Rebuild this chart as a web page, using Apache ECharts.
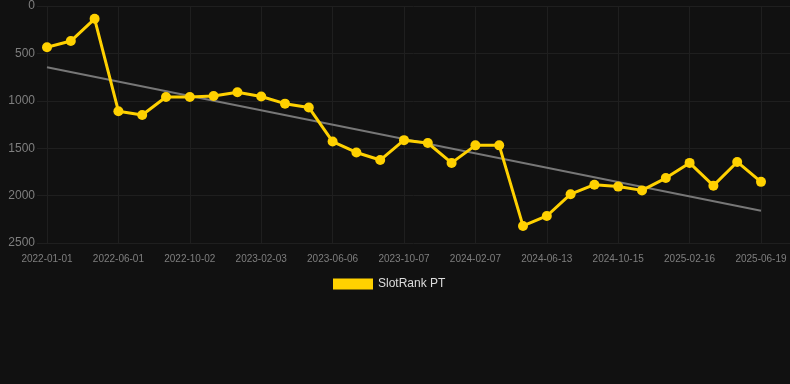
<!DOCTYPE html>
<html>
<head>
<meta charset="utf-8">
<script src="https://cdn.jsdelivr.net/npm/echarts@6/dist/echarts.min.js"></script>
<style>html,body{margin:0;padding:0;background:#111111;}#c{width:790px;height:384px;}</style>
</head>
<body>
<div id="c"></div>
<script>
var categories = ['2022-01-01','2022-02-20','2022-04-11','2022-06-01','2022-07-12','2022-08-22','2022-10-02','2022-11-12','2022-12-24','2023-02-03','2023-03-16','2023-04-26','2023-06-06','2023-07-17','2023-08-27','2023-10-07','2023-11-17','2023-12-28','2024-02-07','2024-03-21','2024-05-02','2024-06-13','2024-07-24','2024-09-04','2024-10-15','2024-11-25','2025-01-06','2025-02-16','2025-03-29','2025-05-09','2025-06-19'];
var rankValues = [435,370,135,1110,1150,960,960,950,910,955,1030,1070,1430,1545,1625,1415,1445,1655,1470,1470,2320,2215,1985,1885,1905,1945,1815,1655,1895,1645,1855];
var trendStart = 645;
var trendEnd = 2160;
var yTicks = [0,500,1000,1500,2000,2500];

var trendData = categories.map(function(c,i){ return i===0 ? trendStart : (i===categories.length-1 ? trendEnd : null); });
var gridColor = '#1f1f1f';
var font = 'Arial, Liberation Sans, sans-serif';

var chart = echarts.init(document.getElementById('c'));
chart.setOption({
  backgroundColor: '#111111',
  animation: false,
  legend: {
    data: ['SlotRank PT'],
    top: 278, left: 333,
    icon: 'rect', itemWidth: 40, itemHeight: 11, itemGap: 10, padding: 0,
    textStyle: {color: '#dddddd', fontSize: 12, fontFamily: font}
  },
  grid: [
    {left: 47, right: 29, top: 6, bottom: 141, containLabel: false},
    {left: 37, right: 0, top: 6, bottom: 141, containLabel: false}
  ],
  xAxis: [
    {type: 'category', gridIndex: 0, data: categories, boundaryGap: false,
     axisLine: {show: false},
     axisTick: {show: true, interval: 2, length: 6, lineStyle: {color: gridColor}},
     splitLine: {show: true, interval: 2, lineStyle: {color: gridColor, width: 1}},
     axisLabel: {interval: 2, color: '#7f7f7f', fontSize: 10, margin: 11, fontFamily: font}},
    {type: 'value', gridIndex: 1, min: 0, max: 1, show: false}
  ],
  yAxis: [
    {type: 'value', gridIndex: 0, inverse: true, min: 0, max: 2500, interval: 500,
     axisLine: {show: false}, axisTick: {show: false}, splitLine: {show: false}, axisLabel: {show: false}},
    {type: 'value', gridIndex: 1, inverse: true, min: yTicks[0], max: yTicks[yTicks.length-1], interval: 500,
     axisLine: {show: false}, axisTick: {show: false},
     splitLine: {show: true, lineStyle: {color: gridColor, width: 1}},
     axisLabel: {color: '#7f7f7f', fontSize: 12, margin: 2, fontFamily: font,
       formatter: function(v){ return String(v); }}}
  ],
  series: [
    {name: 'trend', type: 'line', xAxisIndex: 0, yAxisIndex: 0, data: trendData, connectNulls: true,
     showSymbol: false, symbol: 'none', lineStyle: {color: '#777777', width: 2}, z: 2, silent: true},
    {name: 'SlotRank PT', type: 'line', xAxisIndex: 0, yAxisIndex: 0, data: rankValues,
     symbol: 'circle', symbolSize: 10, showSymbol: true,
     itemStyle: {color: '#FFD100'}, lineStyle: {color: '#FFD100', width: 3}, z: 3}
  ]
});
</script>
</body>
</html>
